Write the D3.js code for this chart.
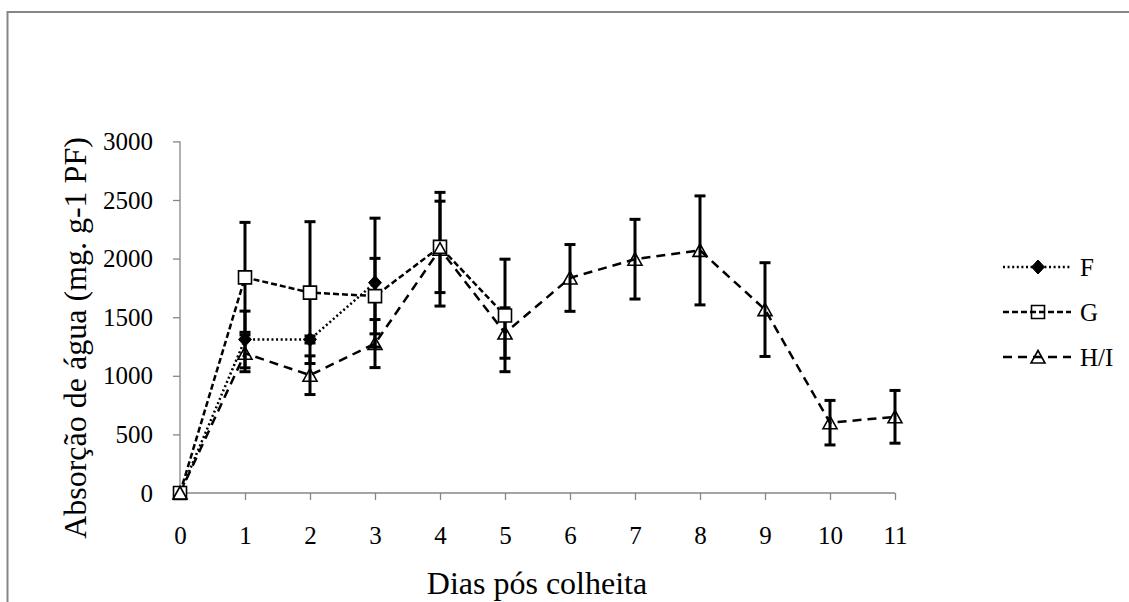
<!DOCTYPE html>
<html><head><meta charset="utf-8">
<script src="https://cdn.jsdelivr.net/npm/d3@7"></script>
<style>
body{margin:0;background:#fff}
svg{display:block}
text{font-family:"Liberation Serif","Times New Roman",serif;fill:#000}
</style>
</head><body>
<svg id="c" width="1129" height="602"></svg>
<script>
// ---- data ----
const days = [0,1,2,3,4,5,6,7,8,9,10,11];
const xTicks = [0,1,2,3,4,5,6,7,8,9,10,11];
const yTicks = [0,500,1000,1500,2000,2500,3000];
const seriesNames = ["F","G","H/I"];
const valuesF = [0,1310,1310,1795];
const errF    = [0,242,30,550];
const valuesG = [0,1840,1710,1680,2100,1515];
const errG    = [0,469,605,322,390,480];
const valuesH = [0,1192,1005,1275,2080,1365,1835,1995,2070,1565,600,650];
const errH    = [0,157,165,205,485,215,285,340,465,400,190,225];
const xTitle = "Dias pós colheita";
const yTitle = "Absorção de água (mg. g-1 PF)";

// ---- drawing ----
const svg = d3.select("#c");
const axisColor = "#868686";
const x = d3.scaleLinear().domain([0,11]).range([180,895]);
const y = d3.scaleLinear().domain([0,3000]).range([493,141.4]);

// outer frame
svg.append("rect").attr("x",7.5).attr("y",12).attr("width",1300).attr("height",800)
  .attr("fill","none").attr("stroke",axisColor).attr("stroke-width",2);

// axes
const gy = svg.append("g").attr("transform","translate(180,0)")
  .call(d3.axisLeft(y).tickValues(yTicks).tickSize(7).tickPadding(20).tickFormat(d3.format("d")));
const gx = svg.append("g").attr("transform","translate(0,493)")
  .call(d3.axisBottom(x).tickValues(xTicks).tickSize(7).tickPadding(26).tickFormat(d3.format("d")));
[gx,gy].forEach(g=>{
  g.attr("font-family","Liberation Serif");
  g.select(".domain").attr("stroke",axisColor).attr("stroke-width",1.3);
  g.selectAll(".tick line").attr("stroke",axisColor).attr("stroke-width",1.3);
  g.selectAll(".tick text").attr("font-size",25).attr("font-family","Liberation Serif").attr("fill","#000");
});
gx.select(".domain").attr("d",`M${x(0)},0H${x(11)}`);
gy.select(".domain").attr("d",`M0,${y(3000)}V${y(0)}`);

// titles
svg.append("text").attr("x",537).attr("y",594).attr("text-anchor","middle")
  .attr("font-size",32).text(xTitle);
svg.append("text").attr("transform","translate(86,338) rotate(-90)").attr("text-anchor","middle")
  .attr("font-size",32).text(yTitle);

const series = [
  {name:seriesNames[0], vals:valuesF, err:errF, dash:"2,2.6", marker:"diamond"},
  {name:seriesNames[1], vals:valuesG, err:errG, dash:"6,3", marker:"square"},
  {name:seriesNames[2], vals:valuesH, err:errH, dash:"9,6", marker:"triangle"}
];

const line = d3.line().x((d,i)=>x(days[i])).y(d=>y(d));

function markerPath(type){
  if(type==="diamond") return "M0,-7L6.5,0L0,7L-6.5,0Z";
  if(type==="square") return "M-6.5,-6.5H6.5V6.5H-6.5Z";
  return "M0,-6.5L7,6L-7,6Z";
}
function markerStyle(sel,type,legend){
  if(type==="diamond") sel.attr("fill","#000").attr("stroke","#000").attr("stroke-width",1);
  else if(type==="square") sel.attr("fill",legend?"none":"#fff").attr("stroke","#000").attr("stroke-width",1.6);
  else sel.attr("fill","none").attr("stroke","#000").attr("stroke-width",1.6);
}

// lines
series.forEach(s=>{
  svg.append("path").datum(s.vals).attr("d",line).attr("fill","none")
    .attr("stroke","#000").attr("stroke-width",2.5).attr("stroke-dasharray",s.dash);
});
// error bars
series.forEach(s=>{
  const g = svg.append("g").attr("stroke","#000").attr("stroke-width",3);
  s.vals.forEach((v,i)=>{
    const e = s.err[i];
    if(!e) return;
    const cx = x(days[i]);
    g.append("line").attr("x1",cx).attr("x2",cx).attr("y1",y(v+e)).attr("y2",y(v-e));
    g.append("line").attr("x1",cx-5.5).attr("x2",cx+5.5).attr("y1",y(v+e)).attr("y2",y(v+e));
    g.append("line").attr("x1",cx-5.5).attr("x2",cx+5.5).attr("y1",y(v-e)).attr("y2",y(v-e));
  });
});
// markers
series.forEach(s=>{
  svg.append("g").selectAll("path").data(s.vals).join("path")
    .attr("transform",(d,i)=>`translate(${x(days[i])},${y(d)})`)
    .attr("d",markerPath(s.marker))
    .call(sel=>markerStyle(sel,s.marker,false));
});

// legend
const legendY = [267,312,357];
series.forEach((s,i)=>{
  const g = svg.append("g").attr("transform",`translate(0,${legendY[i]})`);
  g.append("line").attr("x1",1003).attr("x2",1071).attr("y1",0).attr("y2",0)
    .attr("stroke","#000").attr("stroke-width",2.5).attr("stroke-dasharray",s.dash);
  g.append("path").attr("transform","translate(1038,0)").attr("d",markerPath(s.marker))
    .call(sel=>markerStyle(sel,s.marker,true));
  g.append("text").attr("x",1080).attr("y",0).attr("dy","0.34em").attr("font-size",25).text(s.name);
});
</script>
</body></html>
